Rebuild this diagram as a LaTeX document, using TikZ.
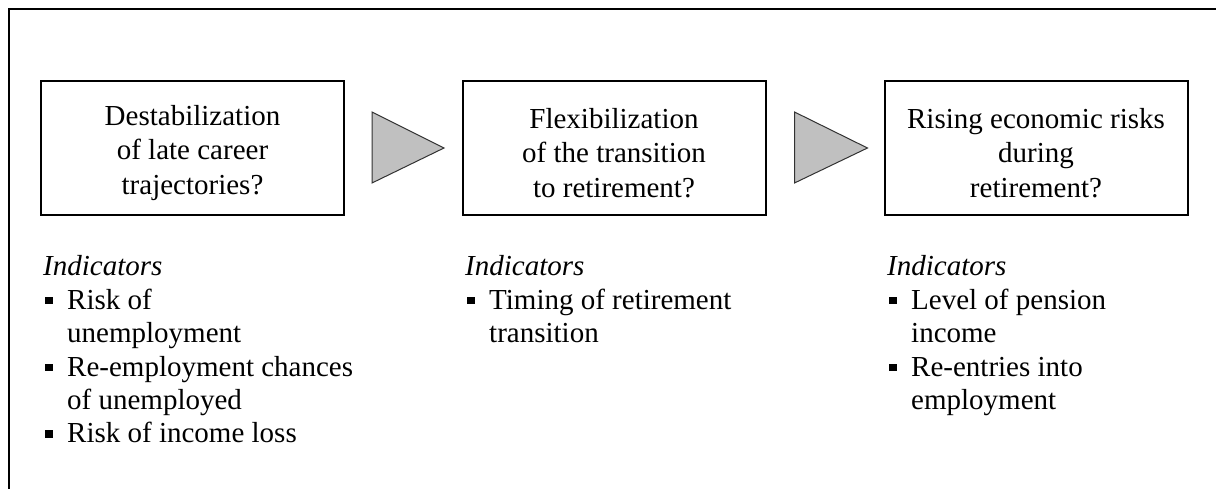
\documentclass[tikz,border=0pt]{standalone}
\usepackage{fontspec}
\setmainfont{Liberation Serif}
\usetikzlibrary{calc}
\newcommand{\mybul}{\makebox[24pt][l]{\hspace{2pt}\rule[5pt]{7.5pt}{7.5pt}}}
\newcommand{\myind}{\hspace*{24pt}}
\begin{document}
\begin{tikzpicture}[x=1pt,y=-1pt,
  txt/.style={font=\fontsize{29pt}{33.4pt}\selectfont, inner sep=0pt},
  boxtxt/.style={font=\fontsize{29pt}{34.6pt}\selectfont, inner sep=0pt, align=center},
  stagebox/.style={draw, line width=2pt, minimum width=303pt, minimum height=134pt, inner sep=0pt},
  indlist/.style={txt, anchor=base west},
  arrowtri/.style={fill={rgb,255:red,192;green,192;blue,192}, draw={rgb,255:red,50;green,50;blue,50}, line width=1pt, line join=miter}]
\useasboundingbox (0,0) rectangle (1216,489);
\draw[line width=2.5pt] (9,500) -- (9,9) -- (1230,9);
\node[stagebox] (box1) at (192.5,148) {};
\node[stagebox] (box2) at (614,148) {};
\node[stagebox] (box3) at (1036,148) {};
\node[boxtxt] (t1) at ($(box1.center)+(0,5)$) {Destabilization\\of late career\\trajectories?};
\node[boxtxt] (t2) at ($(box2.center)+(0,5)$) {Flexibilization\\of the transition\\to retirement?};
\node[boxtxt] (t3) at ($(box3.center)+(0,5)$) {Rising economic risks\\during\\retirement?};
\filldraw[arrowtri] ($(box1.east)+(27,-36)$) -- ($(box1.east)+(99,0)$) -- ($(box1.east)+(27,35)$) -- cycle;
\filldraw[arrowtri] ($(box2.east)+(28,-36)$) -- ($(box2.east)+(101,0)$) -- ($(box2.east)+(28,35)$) -- cycle;
\node[indlist] (ind1) at (43,276) {\begin{tabular}[t]{@{}l@{}}\textit{Indicators}\\ \mybul Risk of\\ \myind unemployment\\ \mybul Re-employment chances\\ \myind of unemployed\\ \mybul Risk of income loss\end{tabular}};
\node[indlist] (ind2) at (465,276) {\begin{tabular}[t]{@{}l@{}}\textit{Indicators}\\ \mybul Timing of retirement\\ \myind transition\end{tabular}};
\node[indlist] (ind3) at (887,276) {\begin{tabular}[t]{@{}l@{}}\textit{Indicators}\\ \mybul Level of pension\\ \myind income\\ \mybul Re-entries into\\ \myind employment\end{tabular}};
\end{tikzpicture}
\end{document}
